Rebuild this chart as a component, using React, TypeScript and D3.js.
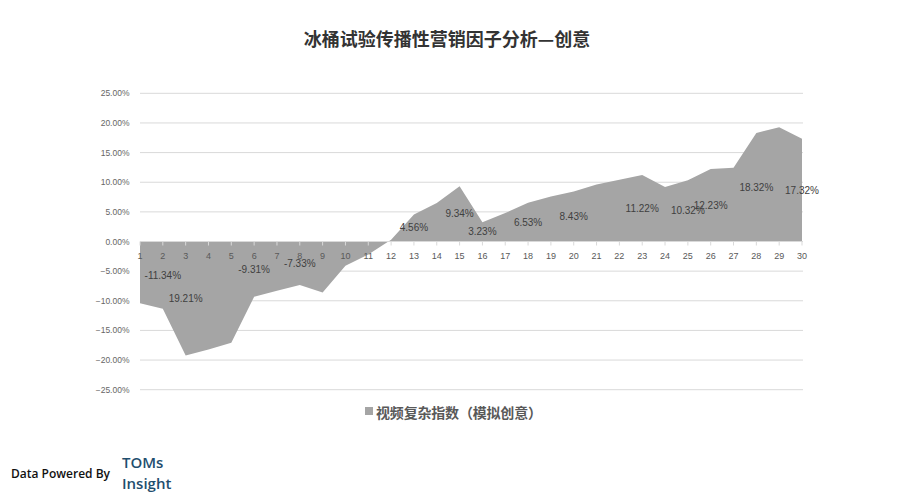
import React from "react";
import * as d3 from "d3";

const title = "冰桶试验传播性营销因子分析—创意";
const seriesName = "视频复杂指数（模拟创意）";
const categories = d3.range(1, 31).map(String);
const values = [
  -10.4, -11.34, -19.21, -18.2, -17.1, -9.31, -8.3, -7.33, -8.6, -4.1,
  -2.2, 0.3, 4.56, 6.5, 9.34, 3.23, 4.8, 6.53, 7.6, 8.43,
  9.6, 10.4, 11.22, 9.2, 10.32, 12.23, 12.45, 18.32, 19.26, 17.32,
];
// indices (category numbers) that carry a data label, and the label text shown
const labelledCats = [2, 3, 6, 8, 13, 15, 16, 18, 20, 23, 25, 26, 28, 30];
const labelTexts = [
  "-11.34%", "19.21%", "-9.31%", "-7.33%", "4.56%", "9.34%", "3.23%",
  "6.53%", "8.43%", "11.22%", "10.32%", "12.23%", "18.32%", "17.32%",
];
const yTicks = [25, 20, 15, 10, 5, 0, -5, -10, -15, -20, -25];

const W = 900;
const H = 504;
const latin = "'Liberation Sans', Arial, sans-serif";
const cjk = "'Noto Sans CJK SC', sans-serif";

export default function App() {
  const x = d3.scalePoint<string>().domain(categories).range([140, 802]);
  const y = d3.scaleLinear().domain([-25, 25]).range([389.7, 93.3]);
  const data = values.map((v, i) => ({ c: categories[i], v }));
  const area = d3
    .area<{ c: string; v: number }>()
    .x((d) => x(d.c) as number)
    .y0(y(0))
    .y1((d) => y(d.v));
  const fmt = (t: number) => d3.format(".2f")(t) + "%";

  return (
    <svg
      width={W}
      height={H}
      style={{ position: "absolute", left: 0, top: 0, background: "#fff" }}
    >
      <rect width={W} height={H} fill="#fff" />
      <text
        x={447}
        y={38}
        textAnchor="middle"
        dominantBaseline="central"
        fontFamily={cjk}
        fontWeight={700}
        fontSize={18}
        fill="#333"
      >
        {title}
      </text>

      {/* gridlines */}
      {yTicks.map((t) => (
        <line
          key={"g" + t}
          x1={140}
          x2={803}
          y1={y(t)}
          y2={y(t)}
          stroke="#d9d9d9"
          strokeWidth={1}
        />
      ))}
      {yTicks.map((t) => (
        <text
          key={"yl" + t}
          x={129.5}
          y={y(t)}
          textAnchor="end"
          dominantBaseline="central"
          fontFamily={latin}
          fontSize={8.5}
          fill="#666"
        >
          {fmt(t)}
        </text>
      ))}

      {/* area */}
      <path d={area(data) || ""} fill="#a5a5a5" />

      {/* category axis */}
      <line x1={140} x2={803} y1={y(0)} y2={y(0)} stroke="#d9d9d9" strokeWidth={1} />
      {categories.map((c) => (
        <line
          key={"t" + c}
          x1={x(c)}
          x2={x(c)}
          y1={y(0)}
          y2={y(0) + 4}
          stroke="#d9d9d9"
          strokeWidth={1}
        />
      ))}
      {categories.map((c) => (
        <text
          key={"c" + c}
          x={x(c)}
          y={y(0) + 14.5}
          textAnchor="middle"
          dominantBaseline="central"
          fontFamily={latin}
          fontSize={9}
          fill="#595959"
        >
          {c}
        </text>
      ))}

      {/* data labels at half height */}
      {labelledCats.map((cat, i) => {
        const v = values[cat - 1];
        return (
          <text
            key={"dl" + cat}
            x={x(String(cat))}
            y={y(v / 2)}
            textAnchor="middle"
            dominantBaseline="central"
            fontFamily={latin}
            fontSize={10}
            fill="#404040"
          >
            {labelTexts[i]}
          </text>
        );
      })}

      {/* legend */}
      <rect x={365} y={407} width={8} height={8} fill="#a5a5a5" />
      <text
        x={376}
        y={411.5}
        dominantBaseline="central"
        fontFamily={cjk}
        fontWeight={700}
        fontSize={14}
        fill="#595959"
        textLength={166}
      >
        {seriesName}
      </text>

      {/* footer */}
      <text
        x={11}
        y={473}
        dominantBaseline="central"
        fontFamily="'Open Sans', sans-serif"
        fontWeight={600}
        fontSize={12}
        fill="#111"
      >
        Data Powered By
      </text>
      <text
        x={122}
        y={462}
        dominantBaseline="central"
        fontFamily="'Open Sans', sans-serif"
        fontWeight={600}
        fontSize={15}
        fill="#1f4e6e"
      >
        TOMs
      </text>
      <text
        x={122}
        y={483}
        dominantBaseline="central"
        fontFamily="'Open Sans', sans-serif"
        fontWeight={600}
        fontSize={15}
        fill="#1f4e6e"
      >
        Insight
      </text>
    </svg>
  );
}
